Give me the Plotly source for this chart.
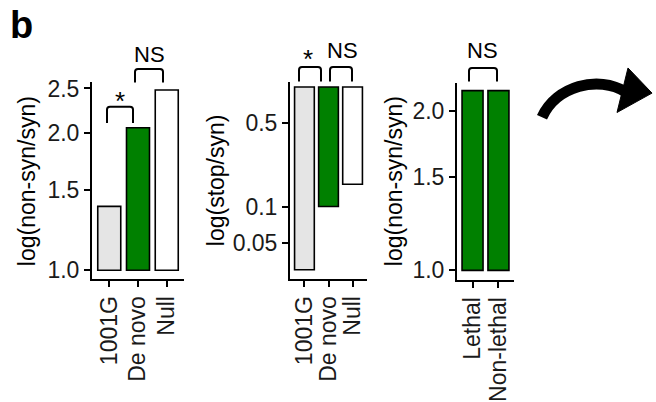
import plotly.graph_objects as go

W, H = 656, 402

# ---- data ----
cats1 = ["1001G", "De novo", "Null"]
vals1 = [1.38, 2.05, 2.48]
cols1 = ["#e5e5e5", "#008000", "#ffffff"]

cats2 = ["1001G", "De novo", "Null"]
vals2 = [0.030, 0.101, 0.155]
cols2 = ["#e5e5e5", "#008000", "#ffffff"]

cats3 = ["Lethal", "Non-lethal"]
vals3 = [2.18, 2.18]
cols3 = ["#008000", "#008000"]

yticks1 = [1.0, 1.5, 2.0, 2.5]
ytext1 = ["1.0", "1.5", "2.0", "2.5"]
yticks2 = [0.05, 0.1, 0.5]
ytext2 = ["0.05", "0.1", "0.5"]
yticks3 = [1.0, 1.5, 2.0]
ytext3 = ["1.0", "1.5", "2.0"]

ytitle1 = "log(non-syn/syn)"
ytitle2 = "log(stop/syn)"
ytitle3 = "log(non-syn/syn)"

FONT = "Liberation Sans, Arial, sans-serif"
TICKCOL = "#1a1a1a"


def px(x):
    return x / W


def py(y):
    return 1 - y / H


fig = go.Figure()


def add_bars(cats, vals, cols, xa, ya, width):
    n = len(cats)
    fig.add_trace(go.Bar(
        x=list(range(n)),
        y=[v - 1.0 for v in vals],
        base=[1.0] * n,
        width=width,
        marker=dict(color=cols, line=dict(color="black", width=1.6)),
        xaxis=xa, yaxis=ya, showlegend=False, hoverinfo="skip",
    ))


add_bars(cats1, vals1, cols1, "x", "y", 0.8)
add_bars(cats2, vals2, cols2, "x2", "y2", 0.82)
add_bars(cats3, vals3, cols3, "x3", "y3", 0.81)


def xax(dom, rng, cats, anchor):
    return dict(domain=[px(dom[0]), px(dom[1])], range=rng, anchor=anchor,
                tickvals=list(range(len(cats))), ticktext=cats, tickangle=-90,
                showline=True, linecolor="black", linewidth=2,
                ticks="outside", ticklen=6, tickwidth=2, tickcolor="black",
                showgrid=False, zeroline=False,
                tickfont=dict(family=FONT, size=23, color=TICKCOL))


def yax(dom, rng, tv, tt, anchor):
    return dict(domain=[py(dom[1]), py(dom[0])], type="log", range=rng, anchor=anchor,
                tickvals=tv, ticktext=tt,
                showline=True, linecolor="black", linewidth=2,
                ticks="outside", ticklen=6, tickwidth=2, tickcolor="black",
                showgrid=False, zeroline=False,
                tickfont=dict(family=FONT, size=23, color=TICKCOL))


fig.update_layout(
    width=W, height=H,
    margin=dict(l=0, r=0, t=0, b=0),
    paper_bgcolor="white", plot_bgcolor="white",
    barmode="overlay",
    xaxis=xax((92, 184), [-0.6, 2.6], cats1, "y"),
    yaxis=yax((78, 281), [-0.019, 0.411], yticks1, ytext1, "x"),
    xaxis2=xax((290, 367), [-0.6, 2.6], cats2, "y2"),
    yaxis2=yax((77, 281), [-1.599, 0.046], yticks2, ytext2, "x2"),
    xaxis3=xax((457, 514), [-0.6, 1.6], cats3, "y3"),
    yaxis3=yax((79, 282), [-0.018, 0.352], yticks3, ytext3, "x3"),
)

annotations = []


def text(x, y, s, size=21, bold=False, angle=0):
    annotations.append(dict(
        x=px(x), y=py(y), xref="paper", yref="paper", text=("<b>%s</b>" % s) if bold else s,
        showarrow=False, xanchor="center", yanchor="middle", textangle=angle,
        font=dict(family=FONT, size=size, color="black")))


text(27, 180, ytitle1, size=23, angle=-90)
text(216, 179, ytitle2, size=23, angle=-90)
text(394, 180, ytitle3, size=23, angle=-90)
text(21, 19, "b", size=38, bold=True)

text(120, 97, "*", size=26)
text(149, 49, "NS", size=22)
text(308, 54, "*", size=26)
text(342, 45, "NS", size=22)
text(482, 45, "NS", size=22)

fig.update_layout(annotations=annotations)

shapes = []


def bracket(x1, x2, yt, yb, r=3):
    p = "M %f,%f L %f,%f Q %f,%f %f,%f L %f,%f Q %f,%f %f,%f L %f,%f" % (
        px(x1), py(yb), px(x1), py(yt + r),
        px(x1), py(yt), px(x1 + r), py(yt),
        px(x2 - r), py(yt),
        px(x2), py(yt), px(x2), py(yt + r),
        px(x2), py(yb))
    shapes.append(dict(type="path", path=p, xref="paper", yref="paper",
                       line=dict(color="black", width=2)))


bracket(107, 133, 103, 120)
bracket(135, 163, 64, 78)
bracket(299, 321, 62, 77)
bracket(330, 352, 62, 77)
bracket(469, 497, 63, 77)

# curved arrow
body = "M %f,%f C %f,%f %f,%f %f,%f" % (
    px(542), py(114), px(556), py(82), px(598), py(70), px(626), py(88))
shapes.append(dict(type="path", path=body, xref="paper", yref="paper",
                   line=dict(color="black", width=11)))
head = "M %f,%f L %f,%f L %f,%f Z" % (px(628), py(63), px(652), py(89), px(617), py(109))
shapes.append(dict(type="path", path=head, xref="paper", yref="paper",
                   fillcolor="black", line=dict(color="black", width=1)))

fig.update_layout(shapes=shapes)

fig.write_html("out.html", config={"displayModeBar": False},
               post_script="document.body.style.margin='0px';")
